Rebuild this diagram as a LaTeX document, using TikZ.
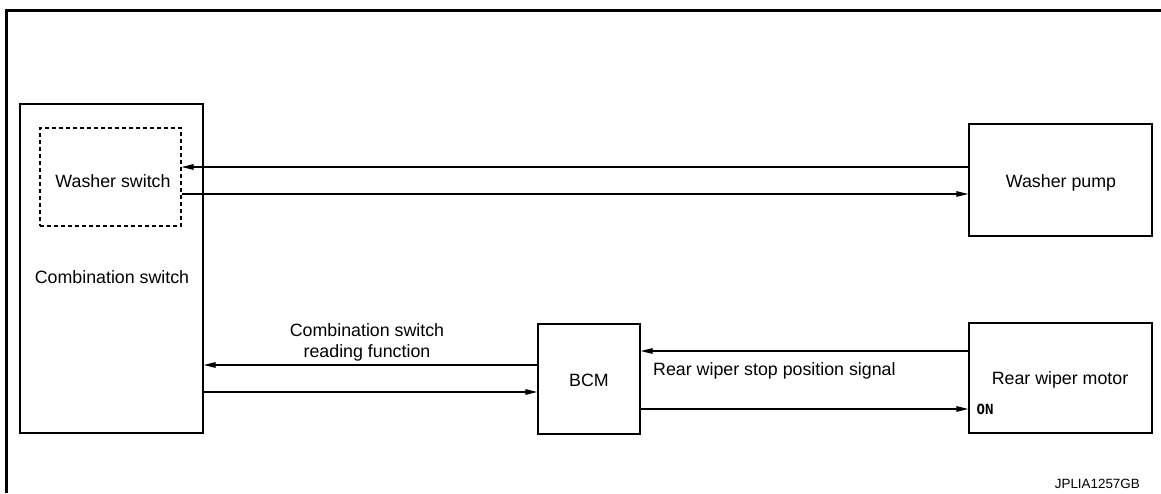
\documentclass[tikz,border=0pt]{standalone}
\usepackage{fontspec}
\setmainfont{Liberation Sans}
\newfontfamily\monofont{DejaVu Sans Mono}
\usetikzlibrary{arrows.meta}

\tikzset{
  unitbox/.style={draw, line width=1.2pt, rectangle, inner sep=0pt},
  dashbox/.style={draw, line width=1.1pt, dash pattern=on 4pt off 3pt, rectangle, inner sep=0pt},
  boxtext/.style={font=\fontsize{17.8}{21}\selectfont, inner sep=0pt},
  sig/.style={line width=1.2pt, -{Triangle[length=12pt,width=5.5pt]}},
  wire/.style={line width=1.2pt}
}

\begin{document}
\begin{tikzpicture}[x=1pt, y=-1pt]
  \useasboundingbox (0,0) rectangle (1161,493);

  % sheet frame
  \draw[line width=3pt] (6.5,493) -- (6.5,10.5) -- (1161,10.5);

  % units
  \node[unitbox, minimum width=183pt, minimum height=329pt] (comb) at (111.5,268.5) {};
  \node[dashbox, minimum width=141pt, minimum height=98pt] (wsw) at (110.5,177) {};
  \node[unitbox, minimum width=183pt, minimum height=112pt] (pump) at (1060.5,180) {};
  \node[unitbox, minimum width=183pt, minimum height=110pt] (motor) at (1060.5,378) {};
  \node[unitbox, minimum width=102pt, minimum height=110pt] (bcm) at (589,379) {};

  % unit names
  \node[boxtext, anchor=base] (combtext) at (112,283) {Combination switch};
  \node[boxtext, anchor=base] (wswtext) at (113,187) {Washer switch};
  \node[boxtext, anchor=base] (pumptext) at (1061,187) {Washer pump};
  \node[boxtext, anchor=base] (motortext) at (1060,384) {Rear wiper motor};
  \node[boxtext, anchor=base] (bcmtext) at (589,386) {BCM};
  \node[font=\monofont\bfseries\fontsize{14}{16}\selectfont, inner sep=0pt, anchor=base west] (ontext) at (976.5,414.5) {ON};

  % connection points
  \coordinate (p1) at ([yshift=13pt]pump.west);
  \coordinate (p2) at ([yshift=-14pt]pump.west);
  \coordinate (b1) at ([yshift=14pt]bcm.west);
  \coordinate (c2) at ([yshift=-123.5pt]comb.east);
  \coordinate (m1) at ([yshift=27pt]motor.west);
  \coordinate (b2) at ([yshift=-30pt]bcm.east);

  % signal lines
  \draw[sig] (p1) -- (p1 -| wsw.east);
  \draw[sig] (p2 -| wsw.east) -- (p2);
  \draw[sig] (b1) -- (b1 -| comb.east);
  \draw[sig] (c2) -- (c2 -| bcm.west);
  \draw[sig] (m1) -- (m1 -| bcm.east);
  \draw[sig] (b2) -- (b2 -| motor.west);

  % line labels
  \node[boxtext, align=center, anchor=south] (readlbl) at (367,361) {Combination switch\\reading function};
  \node[boxtext, anchor=base west] (stoplbl) at (653,375) {Rear wiper stop position signal};

  % drawing code
  \node[font=\fontsize{13.4}{15}\selectfont, inner sep=0pt, anchor=base east] (code) at (1140,488) {JPLIA1257GB};
\end{tikzpicture}
\end{document}
